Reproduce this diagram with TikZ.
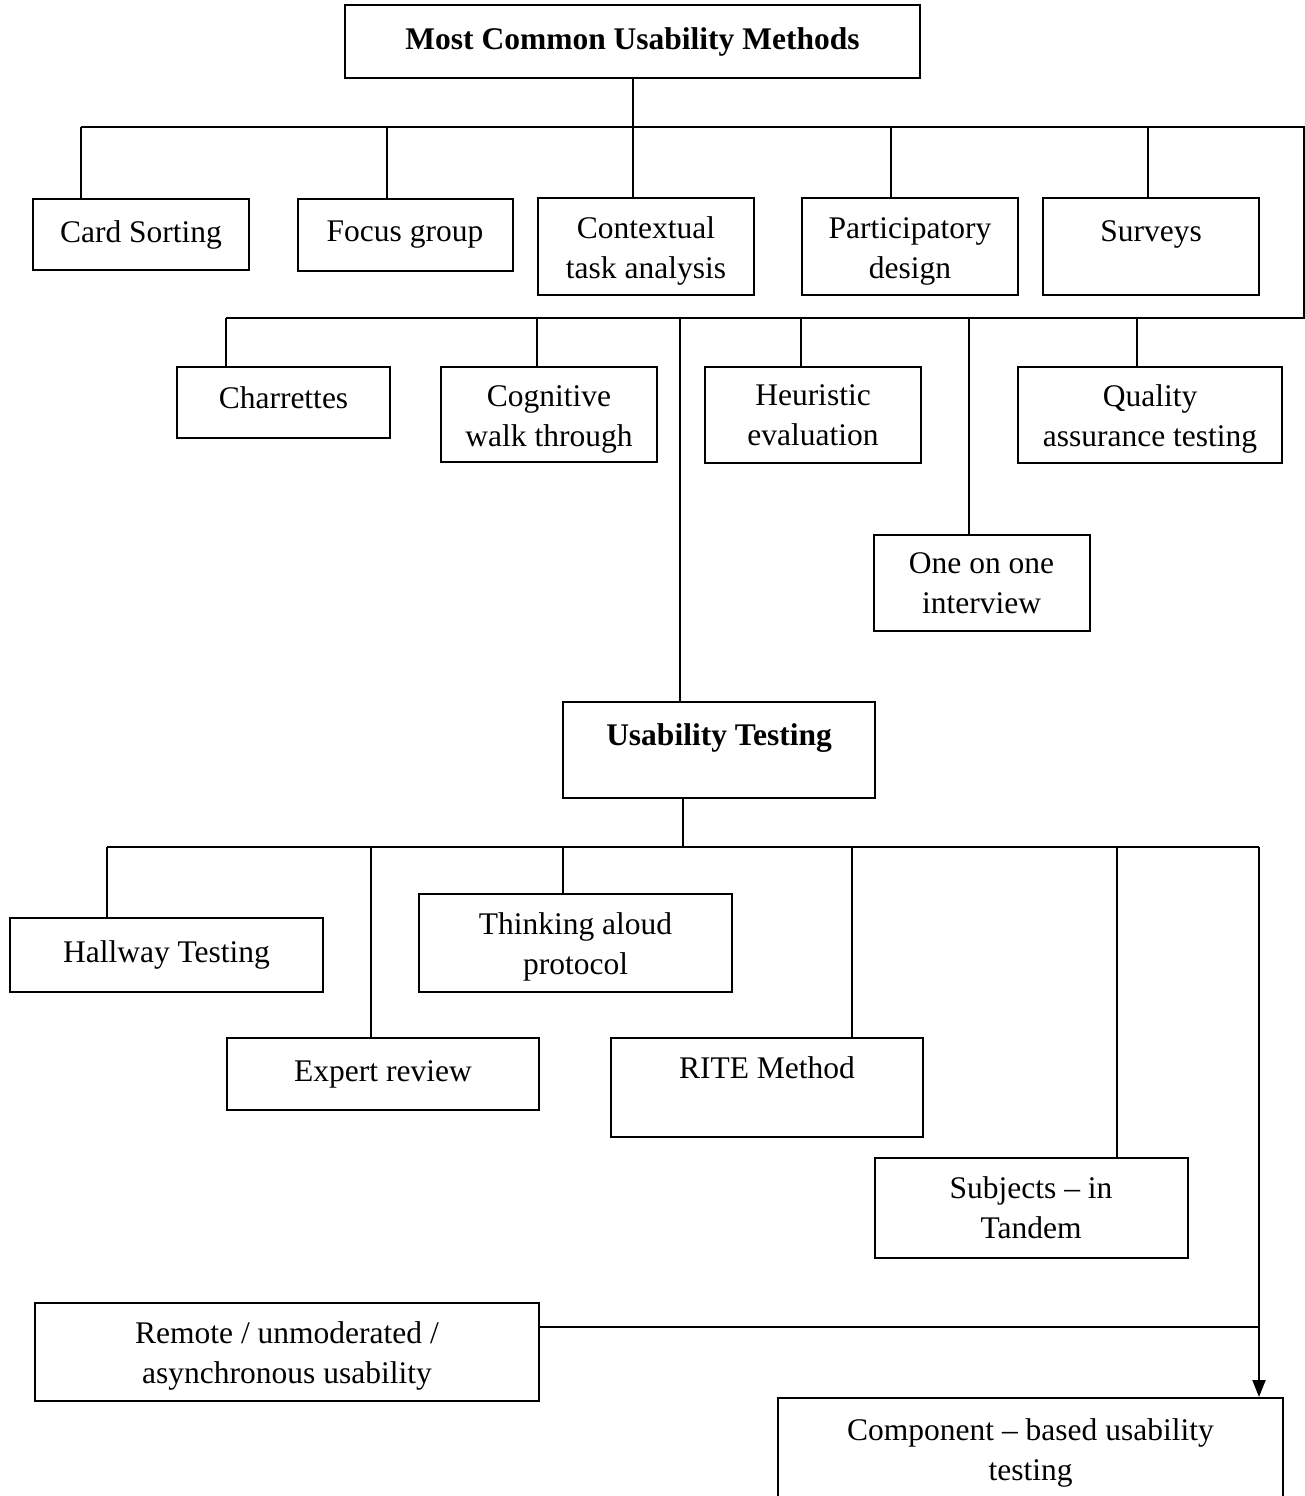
\documentclass[tikz,border=0pt]{standalone}
\usepackage{fontspec}
\setmainfont{Liberation Serif}
\usetikzlibrary{arrows.meta}
\newcommand\firstlift{\rule{0pt}{30pt}}
\begin{document}
\begin{tikzpicture}[x=1pt,y=-1pt,
  box/.style={draw, line width=2pt, inner sep=0pt, align=center,
    font=\fontsize{31.5}{40}\selectfont},
  link/.style={line width=2pt},
  arrowlink/.style={line width=2pt, -{Triangle[length=17pt,width=13pt]}}]
\path[use as bounding box, clip] (0,0) rectangle (1305,1496);
\fill[white] (0,0) rectangle (1305,1496);
% top level
\node[box, minimum width=575pt, minimum height=73pt] (title) at (632.5,41.5) {\textbf{Most Common Usability Methods}};
\node[box, minimum width=216pt, minimum height=71pt] (card) at (141,234.5) {Card Sorting};
\node[box, minimum width=215pt, minimum height=72pt] (focus) at (405,235) {Focus group};
\node[box, minimum width=216pt, minimum height=97pt] (context) at (646,246.5) {\firstlift Contextual\\task analysis};
\node[box, minimum width=216pt, minimum height=97pt] (partic) at (910,246.5) {\firstlift Participatory\\design};
\node[box, minimum width=216pt, minimum height=97pt] (surveys) at (1151,246.5) {\firstlift Surveys\\~};
% second row
\node[box, minimum width=213pt, minimum height=71pt, text depth=10pt] (charr) at (283.5,402.5) {Charrettes};
\node[box, minimum width=216pt, minimum height=95pt] (cogn) at (549,414.5) {\firstlift Cognitive\\walk through};
\node[box, minimum width=216pt, minimum height=96pt] (heur) at (813,415) {Heuristic\\evaluation};
\node[box, minimum width=264pt, minimum height=96pt] (quality) at (1150,415) {\firstlift Quality\\assurance testing};
\node[box, minimum width=216pt, minimum height=96pt] (oneone) at (981.5,583) {One on one\\interview};
% usability testing
\node[box, minimum width=312pt, minimum height=96pt] (ut) at (719,750) {\firstlift\textbf{Usability Testing}\\~};
\node[box, minimum width=313pt, minimum height=74pt] (hall) at (166.5,955) {Hallway Testing};
\node[box, minimum width=313pt, minimum height=98pt] (think) at (575.5,943) {\firstlift Thinking aloud\\protocol};
\node[box, minimum width=312pt, minimum height=72pt] (expert) at (383,1074) {Expert review};
\node[box, minimum width=312pt, minimum height=99pt] (rite) at (767,1087.5) {RITE Method\\~};
\node[box, minimum width=313pt, minimum height=100pt] (subj) at (1031,1208) {Subjects -- in\\Tandem};
\node[box, minimum width=504pt, minimum height=98pt] (remote) at (287,1352) {\firstlift Remote / unmoderated /\\asynchronous usability};
\node[box, minimum width=505pt, minimum height=101pt] (comp) at (1030.5,1448.5) {\firstlift Component -- based usability\\testing};
% bus coordinates
\coordinate (t0) at (633,127);
\coordinate (bA) at (81,127);
\coordinate (bB) at (387,127);
\coordinate (bC) at (633,127);
\coordinate (bD) at (891,127);
\coordinate (bE) at (1148,127);
\coordinate (rt) at (1304,127);
\coordinate (rb) at (1304,318);
\coordinate (cA) at (226,318);
\coordinate (cB) at (537,318);
\coordinate (cC) at (680,318);
\coordinate (cD) at (801,318);
\coordinate (cE) at (969,318);
\coordinate (cF) at (1137,318);
\coordinate (u0) at (683,847);
\coordinate (dA) at (107,847);
\coordinate (dB) at (371,847);
\coordinate (dC) at (563,847);
\coordinate (dD) at (852,847);
\coordinate (dE) at (1117,847);
\coordinate (dF) at (1259,847);
\coordinate (rj) at (1259,1327);
% connectors level 1
\draw[link] (title.south -| t0) -- (t0);
\draw[link] (bA) -- (rt) -- (rb) -- (cA);
\draw[link] (bA) -- (bA |- card.north);
\draw[link] (bB) -- (bB |- focus.north);
\draw[link] (bC) -- (bC |- context.north);
\draw[link] (bD) -- (bD |- partic.north);
\draw[link] (bE) -- (bE |- surveys.north);
% connectors level 2
\draw[link] (cA) -- (cA |- charr.north);
\draw[link] (cB) -- (cB |- cogn.north);
\draw[link] (cC) -- (cC |- ut.north);
\draw[link] (cD) -- (cD |- heur.north);
\draw[link] (cE) -- (cE |- oneone.north);
\draw[link] (cF) -- (cF |- quality.north);
% connectors level 3
\draw[link] (ut.south -| u0) -- (u0);
\draw[link] (dA) -- (dF);
\draw[link] (dA) -- (dA |- hall.north);
\draw[link] (dB) -- (dB |- expert.north);
\draw[link] (dC) -- (dC |- think.north);
\draw[link] (dD) -- (dD |- rite.north);
\draw[link] (dE) -- (dE |- subj.north);
\draw[arrowlink] (dF) -- (dF |- comp.north);
\draw[link] (remote.east |- rj) -- (rj);
\end{tikzpicture}
\end{document}
